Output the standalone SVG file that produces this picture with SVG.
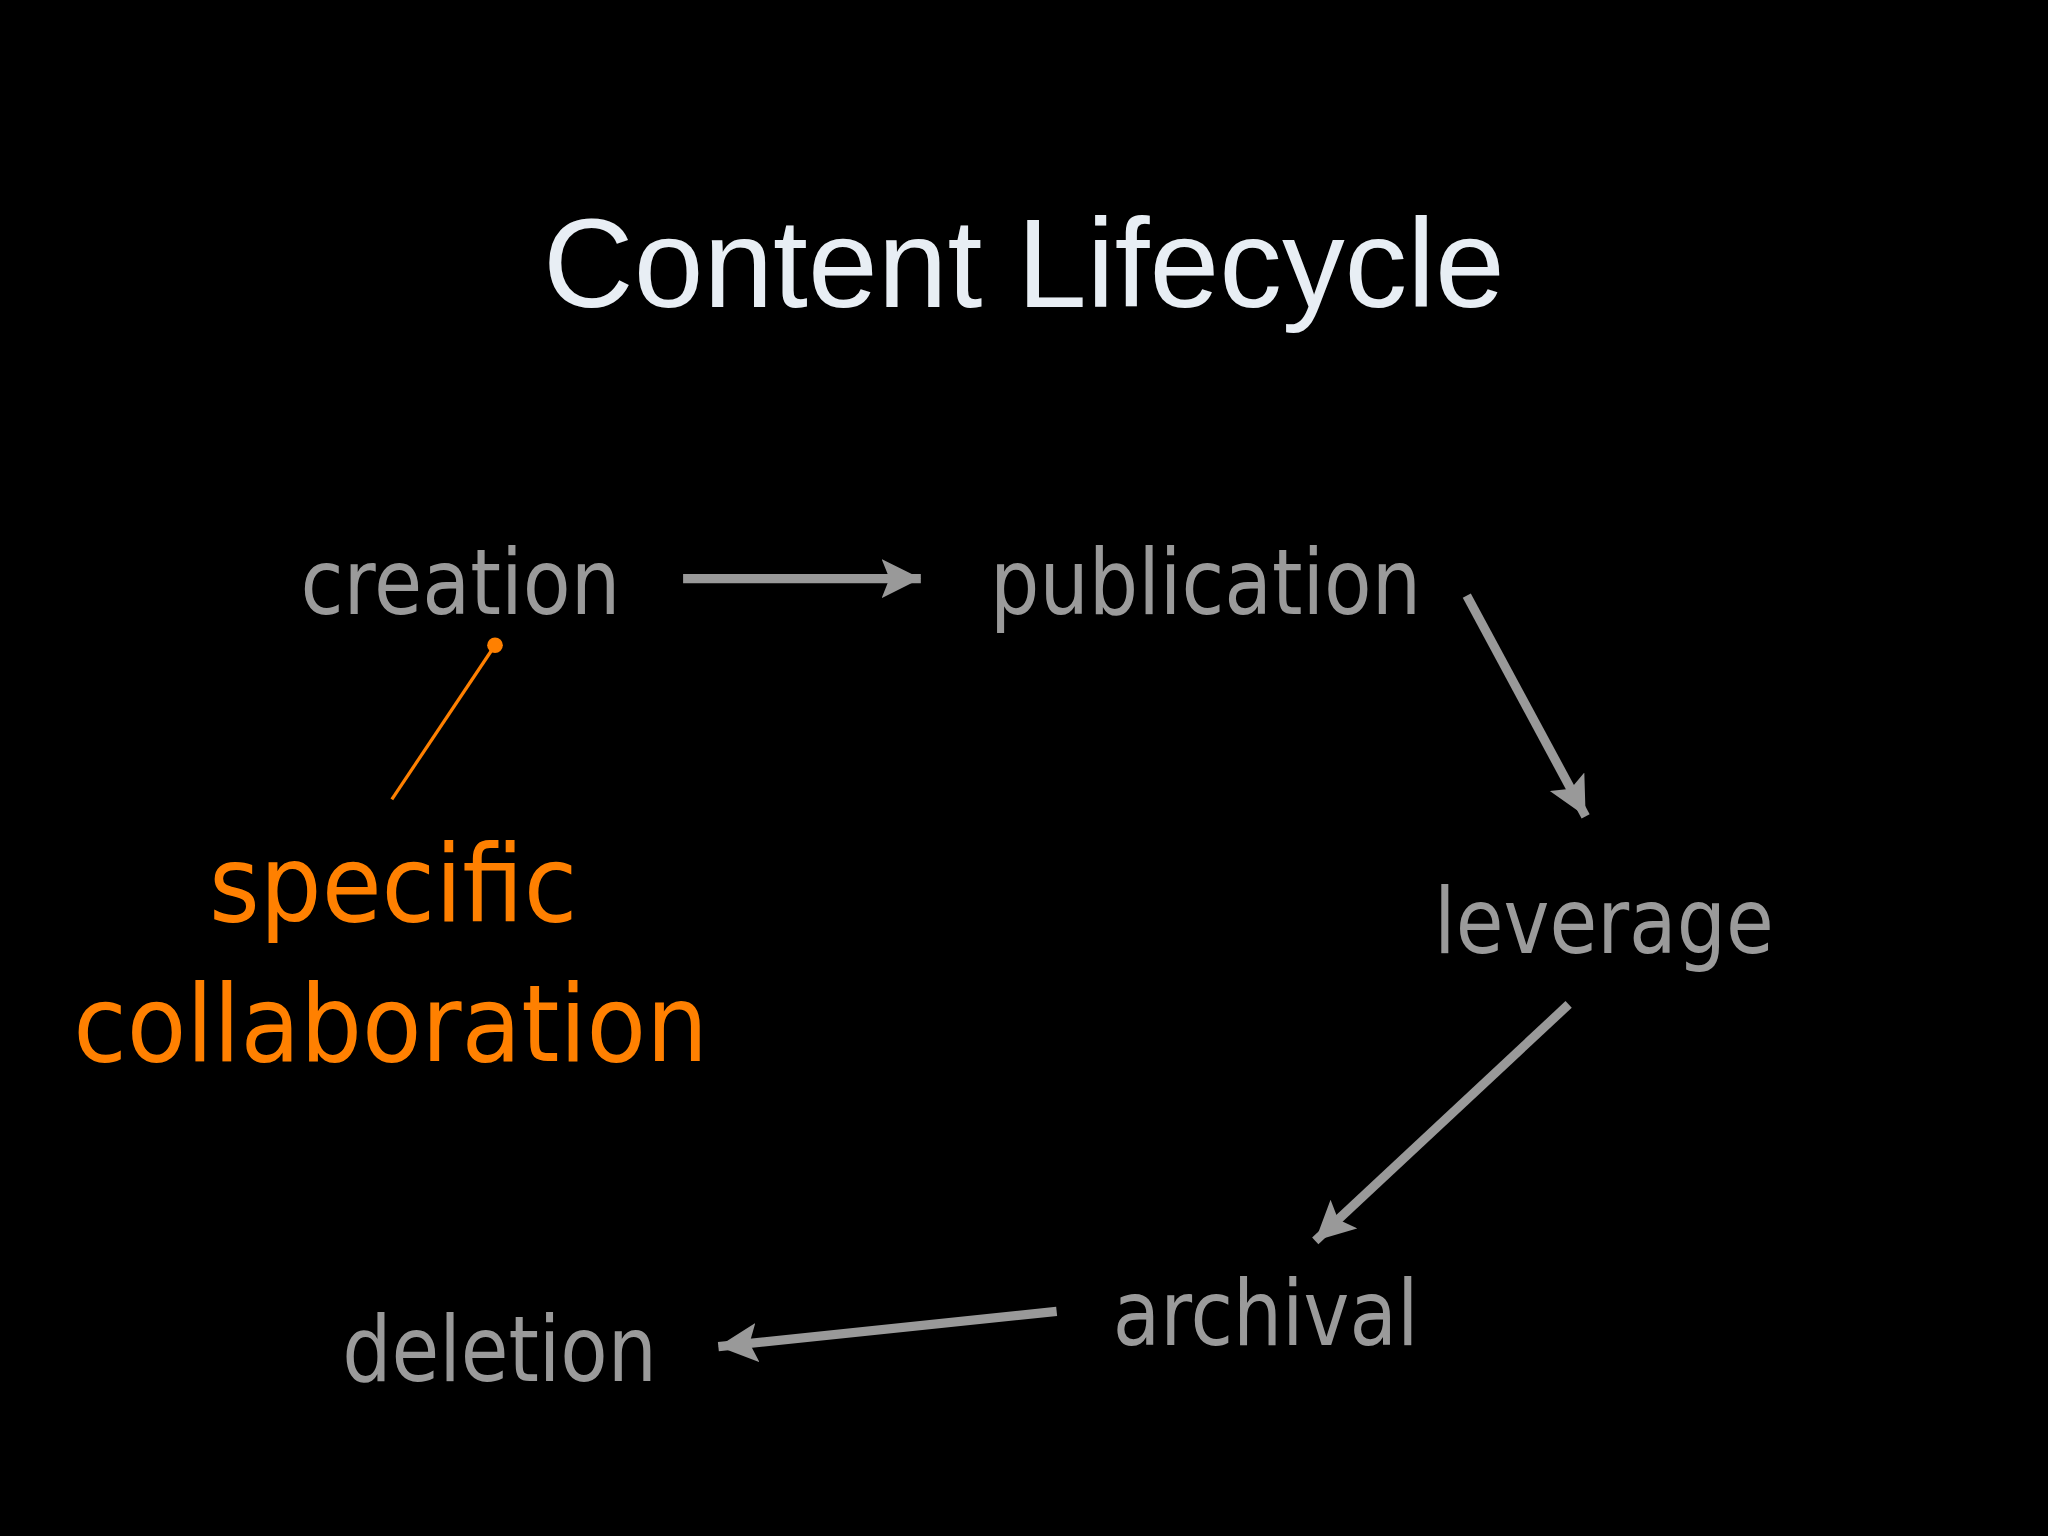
<svg xmlns="http://www.w3.org/2000/svg" width="2048" height="1536" viewBox="0 0 2048 1536">
<style>
.t{font-family:"DejaVu Sans",Verdana,sans-serif;font-size:70px;fill:#9a9a9a}
.o{font-family:"DejaVu Sans",Verdana,sans-serif;font-size:82px;fill:#ff8000}
.a{stroke:#999;stroke-width:7;fill:none}
</style>
<defs>
<marker id="h" markerUnits="userSpaceOnUse" markerWidth="40" markerHeight="40" refX="30" refY="15" orient="auto">
<polygon points="0,0 30,15 0,30 6,15" fill="#999"/>
</marker>
</defs>
<rect width="2048" height="1536" fill="#000"/>
<g transform="scale(1.30612)">
<text x="784" y="235" text-anchor="middle" font-family="Liberation Sans,Arial,sans-serif" font-size="96" fill="#e8eef4">Content Lifecycle</text>
<g id="creation"><text class="t" x="230" y="470" textLength="245" lengthAdjust="spacingAndGlyphs">creation</text></g>
<g id="publication"><text class="t" x="758" y="470" textLength="330" lengthAdjust="spacingAndGlyphs">publication</text></g>
<g id="leverage"><text class="t" x="1098" y="730" textLength="260" lengthAdjust="spacingAndGlyphs">leverage</text></g>
<g id="archival"><text class="t" x="852" y="1030" textLength="234" lengthAdjust="spacingAndGlyphs">archival</text></g>
<g id="deletion"><text class="t" x="262" y="1057" textLength="241" lengthAdjust="spacingAndGlyphs">deletion</text></g>
<g id="note"><text class="o" x="160" y="705" textLength="282" lengthAdjust="spacingAndGlyphs">specific</text>
<text class="o" x="56" y="812" textLength="486" lengthAdjust="spacingAndGlyphs">collaboration</text></g>
<g id="connectors">
<line class="a" x1="523" y1="443" x2="705" y2="443" marker-end="url(#h)"/>
<line class="a" x1="1123" y1="456" x2="1214" y2="625" marker-end="url(#h)"/>
<line class="a" x1="1201" y1="769" x2="1007" y2="950" marker-end="url(#h)"/>
<line class="a" x1="809" y1="1004" x2="550" y2="1031" marker-end="url(#h)"/>
<line x1="300" y1="612" x2="379" y2="494" stroke="#ff8000" stroke-width="2.5"/>
<circle cx="379" cy="494" r="6" fill="#ff8000"/>
</g>
</g>
</svg>
